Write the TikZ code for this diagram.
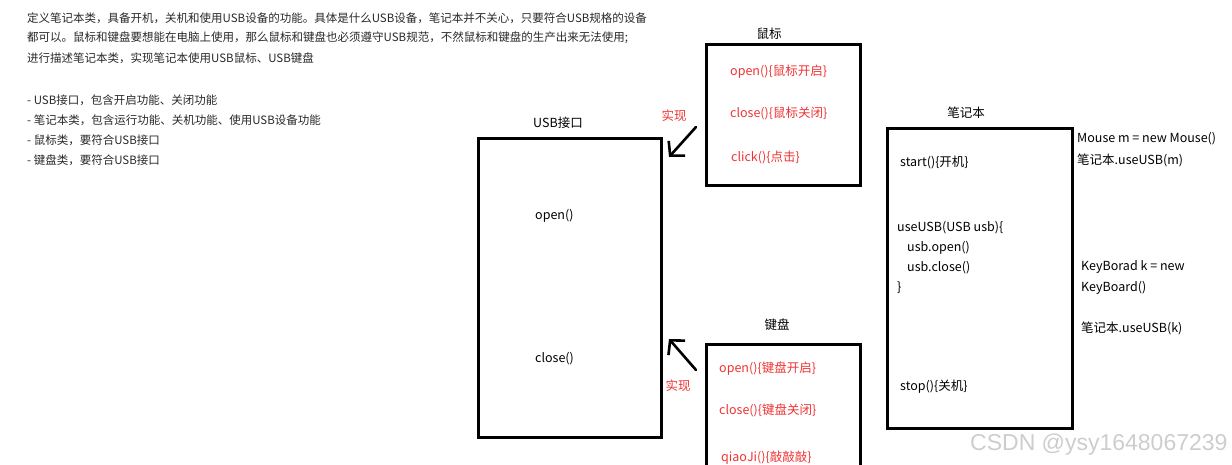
\documentclass[tikz,border=0pt]{standalone}
\usepackage{fontspec}
\setmainfont{Noto Sans CJK SC}
\newfontfamily\wmfont{Liberation Sans}
\usetikzlibrary{arrows.meta,positioning}
\definecolor{notered}{RGB}{240,50,50}
\definecolor{textgray}{RGB}{40,40,40}
\definecolor{markgray}{RGB}{205,205,205}
\tikzset{
  classbox/.style={draw=black,line width=3pt,inner sep=0pt},
  txt/.style={anchor=west,inner sep=0pt,font=\fontsize{11.5}{13}\selectfont,text=textgray},
  lbl/.style={anchor=west,inner sep=0pt,font=\fontsize{12.5}{14}\selectfont,text=black},
  redlbl/.style={lbl,text=notered},
  boxtitle/.style={inner sep=0pt,font=\fontsize{12.5}{14}\selectfont},
  impllabel/.style={inner sep=0pt,font=\fontsize{12.5}{14}\selectfont,text=notered},
  implarrow/.style={-{Straight Barb[length=10pt,width=22pt]},line width=2.6pt,line cap=round},
  wmark/.style={anchor=west,inner sep=0pt,font=\wmfont\fontsize{23}{26}\selectfont,text=markgray}
}

\begin{document}
\begin{tikzpicture}[x=1pt,y=-1pt]
  \useasboundingbox (0,0) rectangle (1232,465);
  \clip (0,0) rectangle (1232,465);
  % task text
  \node[txt] (intro1) at (27,18) {定义笔记本类，具备开机，关机和使用USB设备的功能。具体是什么USB设备，笔记本并不关心，只要符合USB规格的设备};
  \node[txt] (intro2) at (27,38) {都可以。鼠标和键盘要想能在电脑上使用，那么鼠标和键盘也必须遵守USB规范，不然鼠标和键盘的生产出来无法使用;};
  \node[txt] (intro3) at (27,58) {进行描述笔记本类，实现笔记本使用USB鼠标、USB键盘};
  \node[txt] (req1) at (27,100) {- USB接口，包含开启功能、关闭功能};
  \node[txt] (req2) at (27,120) {- 笔记本类，包含运行功能、关机功能、使用USB设备功能};
  \node[txt] (req3) at (27,140) {- 鼠标类，要符合USB接口};
  \node[txt] (req4) at (27,160) {- 键盘类，要符合USB接口};
  % USB interface
  \node[classbox,minimum width=183pt,minimum height=298pt] (usb) at (569.5,288) {};
  \node[boxtitle] (usbtitle) at (558,123) {USB接口};
  \node[lbl] (usbopen) at (535,216) {open()};
  \node[lbl] (usbclose) at (535,359) {close()};
  % mouse
  \node[classbox,minimum width=154pt,minimum height=141pt] (mouse) at (783,115.5) {};
  \node[boxtitle] (mousetitle) at (769,34) {鼠标};
  \node[redlbl] (mopen) at (730,72) {open()\{鼠标开启\}};
  \node[redlbl] (mclose) at (730,113) {close()\{鼠标关闭\}};
  \node[redlbl] (mclick) at (731,157) {click()\{点击\}};
  % keyboard
  \node[classbox,minimum width=154pt,minimum height=140pt] (kbd) at (783,414) {};
  \node[boxtitle] (kbdtitle) at (777,325) {键盘};
  \node[redlbl] (kopen) at (719,369) {open()\{键盘开启\}};
  \node[redlbl] (kclose) at (719,410) {close()\{键盘关闭\}};
  \node[redlbl] (kqiao) at (721,458) {qiaoJi()\{敲敲敲\}};
  % notebook
  \node[classbox,minimum width=185pt,minimum height=299pt] (nb) at (979.5,278.5) {};
  \node[boxtitle] (nbtitle) at (966,113) {笔记本};
  \node[lbl] (nbstart) at (900,162) {start()\{开机\}};
  \node[lbl] (nbuse) at (897,228) {useUSB(USB usb)\{};
  \node[lbl] (nbopen) at (907,248) {usb.open()};
  \node[lbl] (nbclose) at (907,268) {usb.close()};
  \node[lbl] (nbend) at (897,288) {\}};
  \node[lbl] (nbstop) at (900,387) {stop()\{关机\}};
  % usage notes
  \node[lbl] (note1) at (1077,139) {Mouse m = new Mouse()};
  \node[lbl] (note2) at (1077,160) {笔记本.useUSB(m)};
  \node[lbl] (note3) at (1081,267) {KeyBorad k = new};
  \node[lbl] (note4) at (1081,288) {KeyBoard()};
  \node[lbl] (note5) at (1081,328) {笔记本.useUSB(k)};
  % implements arrows
  \coordinate (mtail) at (696,127);
  \coordinate (mhead) at (669,157);
  \coordinate (ktail) at (696,370);
  \coordinate (khead) at (669,339);
  \draw[implarrow] (mtail) -- (mhead);
  \draw[implarrow] (ktail) -- (khead);
  \node[impllabel] (mimpl) at (674,116) {实现};
  \node[impllabel] (kimpl) at (678,386) {实现};
  \node[wmark] (wm) at (970,445) {CSDN @ysy1648067239};
\end{tikzpicture}
\end{document}
